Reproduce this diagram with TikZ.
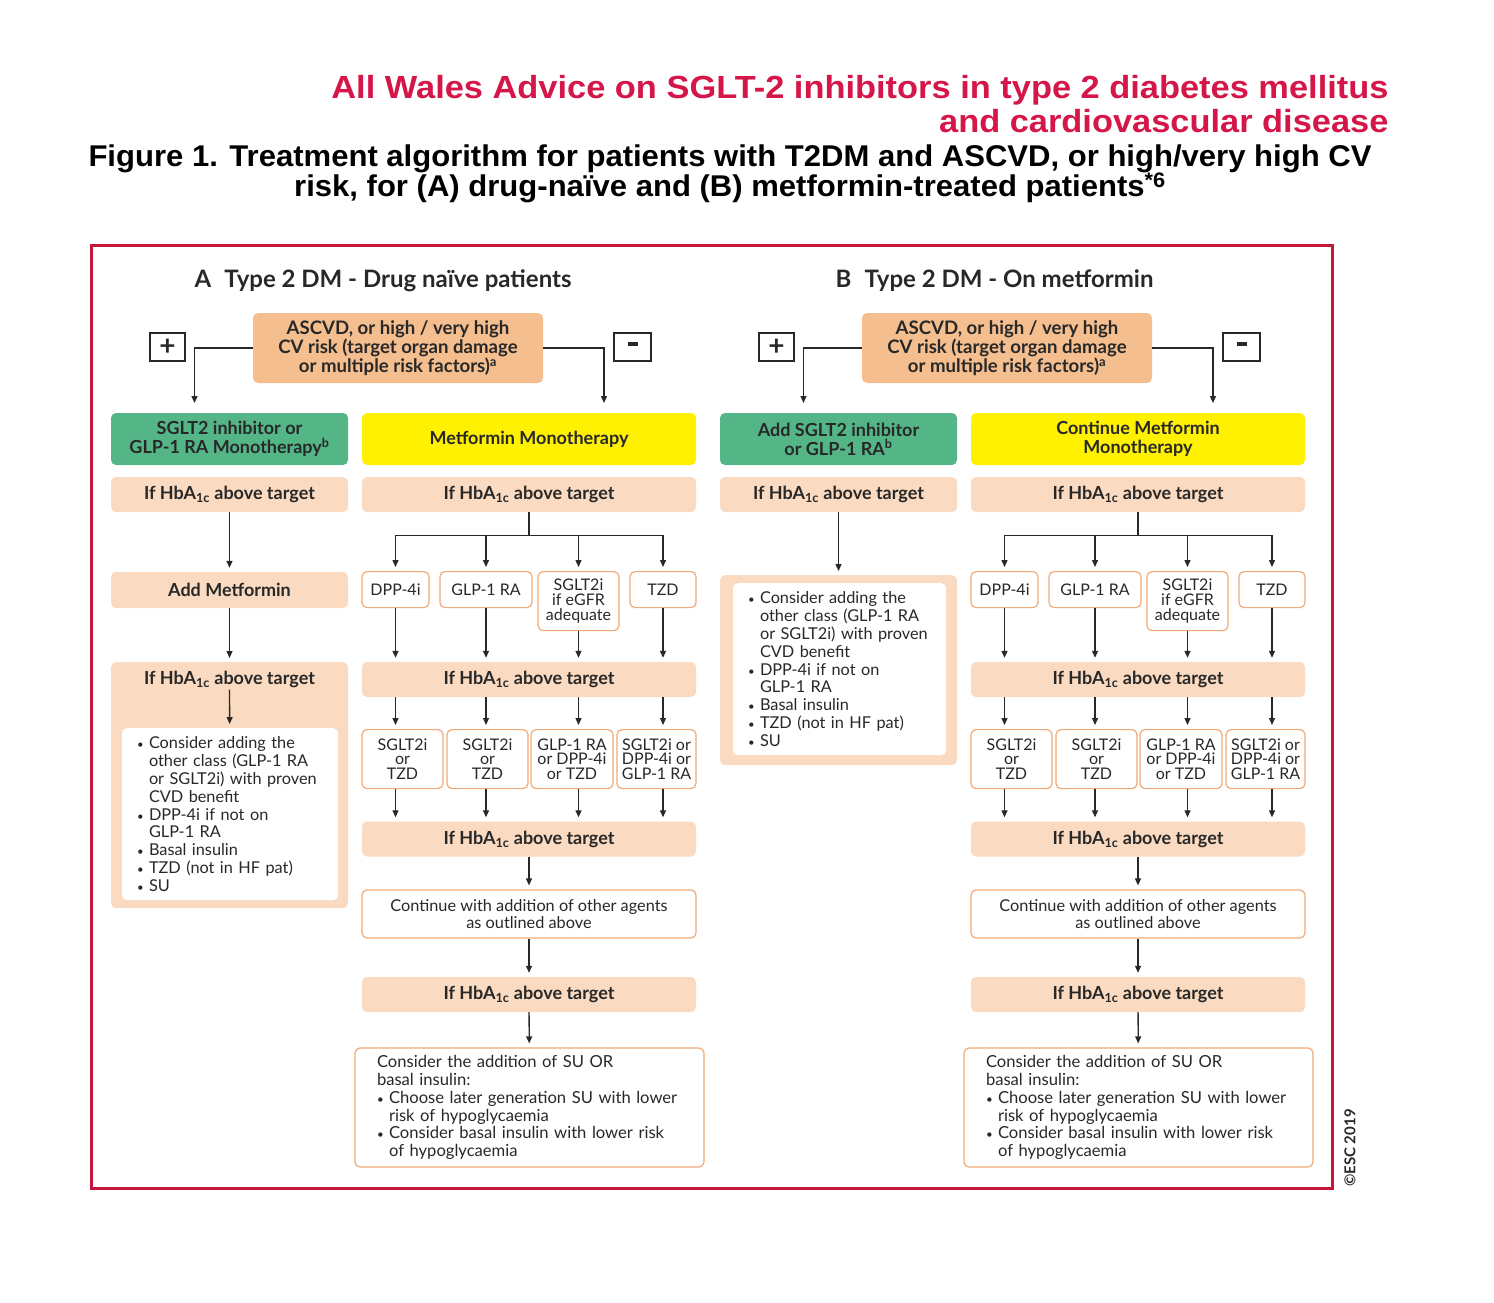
\documentclass[tikz,border=0pt]{standalone}
\usepackage{fontspec}
\setmainfont{Lato}
\newfontfamily\headfont{Liberation Sans}
\usepackage{tikz}
\usetikzlibrary{arrows.meta}

\definecolor{framered}{RGB}{196,24,58}
\definecolor{titlered}{RGB}{212,22,72}
\definecolor{ascvdtan}{RGB}{244,190,142}
\definecolor{hbpeach}{RGB}{250,218,192}
\definecolor{boxline}{RGB}{240,170,120}
\definecolor{sglgreen}{RGB}{84,182,135}
\definecolor{metyellow}{RGB}{255,241,0}
\definecolor{ink}{RGB}{40,40,40}

\newcommand\hba{If HbA\textsubscript{1c} above target}
\newcommand\bul{\makebox[12pt][l]{\scalebox{0.7}{\textbullet}}}
\newcommand\hang{\hspace*{12pt}}
\newcommand\boxfont{\fontsize{18}{19}\selectfont}
\newcommand\listfont{\fontsize{16.3}{17.8}\selectfont}

\tikzset{
  box/.style={rectangle, rounded corners=5pt, inner sep=2pt, align=center,
              text=ink, font=\boxfont},
  colwide/.style={minimum width=334},
  colnarrow/.style={minimum width=237},
  ascvd/.style={box, fill=ascvdtan, minimum width=290, minimum height=70,
                font=\fontsize{18.6}{19}\selectfont\bfseries},
  hbbox/.style={box, fill=hbpeach, minimum height=35, font=\boxfont\bfseries},
  greenbox/.style={box, fill=sglgreen, colnarrow, minimum height=52,
                   font=\boxfont\bfseries},
  yellowbox/.style={box, fill=metyellow, colwide, minimum height=52,
                    font=\boxfont\bfseries},
  drug/.style={box, draw=boxline, line width=1.2pt, fill=white, inner sep=1pt,
               font=\fontsize{16}{14.6}\selectfont},
  listbox/.style={box, fill=white, align=left, font=\listfont},
  signbox/.style={rectangle, draw=ink, line width=1.3pt, minimum width=35,
                  minimum height=28, inner sep=0pt, text=ink,
                  font=\fontsize{28}{28}\selectfont\bfseries},
  panelhead/.style={text=ink, font=\fontsize{24}{26}\selectfont\bfseries},
  conn/.style={draw=ink, line width=1.3pt},
  arr/.style={conn, -{Triangle[length=7pt,width=6pt]}, shorten >=4pt}
}

\begin{document}
\begin{tikzpicture}[x=1pt,y=-1pt]
  \useasboundingbox (0,0) rectangle (1494,1302);

  % headings
  \node[anchor=east, text=titlered, font=\headfont\bfseries\fontsize{32}{32}\selectfont]
    (wales1) at (1392,90) {\scalebox{1.075}[1]{All Wales Advice on SGLT-2 inhibitors in type 2 diabetes mellitus}};
  \node[anchor=east, text=titlered, font=\headfont\bfseries\fontsize{32}{32}\selectfont]
    (wales2) at (1392,121) {\scalebox{1.075}[1]{and cardiovascular disease}};
  \node[font=\headfont\bfseries\fontsize{30}{30}\selectfont]
    (fig1) at (730,159) {\scalebox{1.035}[1]{Figure 1. Treatment algorithm for patients with T2DM and ASCVD, or high/very high CV}};
  \node[font=\headfont\bfseries\fontsize{30}{30}\selectfont]
    (fig2) at (730,188) {\scalebox{1.035}[1]{risk, for (A) drug-naïve and (B) metformin-treated patients\textsuperscript{*6}}};

  \draw[framered, line width=3pt] (91,245) rectangle (1332,1188);
  \node[rotate=90, text=ink, font=\fontsize{15}{15}\selectfont\bfseries] (esc) at (1350,1148) {\textcopyright ESC 2019};

  % both panels: top part and right column
  \foreach \p/\dx in {A/0, B/609} {
    \begin{scope}[xshift=\dx]
      \node[ascvd] (asc\p) at (398,348)
        {ASCVD, or high / very high\\CV risk (target organ damage\\or multiple risk factors)\textsuperscript{a}};
      \node[signbox] (plus\p) at (167.5,347) {+};
      \node[signbox, minimum width=37] (minus\p) at (632.5,347) {\rule[0.22em]{10pt}{4pt}};
      \node[hbbox, colnarrow] (hb1\p) at (229.5,494.5) {\hba};
      \node[hbbox, colwide] (hb2\p) at (529,494.5) {\hba};

      \node[drug, minimum width=67, minimum height=36, anchor=north] (dpp\p) at (395.5,571) {DPP-4i};
      \node[drug, minimum width=92, minimum height=36, anchor=north] (glp\p) at (486,571) {GLP-1 RA};
      \node[drug, minimum width=81, minimum height=59, anchor=north] (sglt\p) at (578.5,571) {SGLT2i\\if eGFR\\adequate};
      \node[drug, minimum width=66, minimum height=36, anchor=north] (tzd\p) at (663,571) {TZD};
      \node[hbbox, colwide] (hb4\p) at (529,679.5) {\hba};

      \node[drug, minimum width=81, minimum height=59, anchor=north] (cmb1\p) at (402.5,729) {SGLT2i\\or\\TZD};
      \node[drug, minimum width=81, minimum height=59, anchor=north] (cmb2\p) at (487.5,729) {SGLT2i\\or\\TZD};
      \node[drug, minimum width=82, minimum height=59, anchor=north] (cmb3\p) at (572,729) {GLP-1 RA\\or DPP-4i\\or TZD};
      \node[drug, minimum width=79, minimum height=59, anchor=north] (cmb4\p) at (656.5,729) {SGLT2i or\\DPP-4i or\\GLP-1 RA};
      \node[hbbox, colwide] (hb5\p) at (529,839) {\hba};

      \node[drug, colwide, minimum height=48, font=\listfont] (cont\p) at (529,914)
        {Continue with addition of other agents\\as outlined above};
      \node[hbbox, colwide] (hb6\p) at (529,994.5) {\hba};
      \node[drug, text width=305, inner xsep=22, minimum height=119, align=left, font=\fontsize{16.6}{17.8}\selectfont]
        (final\p) at (529.5,1107.5)
        {Consider the addition of SU OR\\basal insulin:\\
         \bul Choose later generation SU with lower\\\hang risk of hypoglycaemia\\
         \bul Consider basal insulin with lower risk\\\hang of hypoglycaemia};

      \draw[arr] (asc\p.west) -| ([xshift=-35pt,yshift=6pt]hb1\p.north |- 0,413);
      \draw[arr] (asc\p.east) -| ([xshift=75pt,yshift=6pt]hb2\p.north |- 0,413);

      \draw[conn] (hb2\p.south) -- ++(0,23) coordinate (split\p);
      \draw[conn] (dpp\p.north |- split\p) -- (tzd\p.north |- split\p);
      \foreach \d/\i in {dpp/1, glp/2, sglt/3, tzd/4} {
        \draw[arr] (\d\p.north |- split\p) -- (\d\p.north);
        \draw[arr] (\d\p.south) -- (\d\p.south |- hb4\p.north);
        \draw[arr] (\d\p.south |- hb4\p.south) -- (\d\p.south |- cmb\i\p.north);
        \draw[arr] (\d\p.south |- cmb\i\p.south) -- (\d\p.south |- hb5\p.north);
      }
      \draw[arr] (hb5\p) -- (cont\p);
      \draw[arr] (cont\p) -- (hb6\p);
      \draw[arr] (hb6\p) -- (final\p);
    \end{scope}
  }

  % panel A, left column
  \node[panelhead] (headA) at (383,281) {A\hspace{0.55em}Type 2 DM - Drug naïve patients};
  \node[greenbox] (grnA) at (229.5,439) {SGLT2 inhibitor or\\GLP-1 RA Monotherapy\textsuperscript{b}};
  \node[yellowbox] (yelA) at (529,439) {Metformin Monotherapy};
  \node[hbbox, colnarrow, minimum height=36] (addmet) at (229.5,590) {Add Metformin};
  \node[box, fill=hbpeach, colnarrow, minimum height=246, anchor=north] (bigA) at (229.5,662) {};
  \node[box, font=\boxfont\bfseries] (hb3A) at (229.5,679) {\hba};
  \node[listbox, text width=186, inner xsep=15, minimum height=172, anchor=north] (listA) at (230,728)
    {\bul Consider adding the\\\hang other class (GLP-1 RA\\\hang or SGLT2i) with proven\\\hang CVD benefit\\
     \bul DPP-4i if not on\\\hang GLP-1 RA\\\bul Basal insulin\\\bul TZD (not in HF pat)\\\bul SU};
  \draw[arr] (hb1A) -- (addmet);
  \draw[arr] (addmet) -- (bigA);
  \draw[arr] (hb3A) -- (listA);

  % panel B, left column
  \node[panelhead] (headB) at (994.5,281) {B\hspace{0.55em}Type 2 DM - On metformin};
  \node[greenbox] (grnB) at (838.5,439) {Add SGLT2 inhibitor\\or GLP-1 RA\textsuperscript{b}};
  \node[yellowbox] (yelB) at (1138,439) {Continue Metformin\\Monotherapy};
  \node[box, fill=hbpeach, colnarrow, minimum height=190, anchor=north] (bigB) at (838.5,575) {};
  \node[listbox, text width=183, inner xsep=15, minimum height=172, anchor=north] (listB) at (839.5,583)
    {\bul Consider adding the\\\hang other class (GLP-1 RA\\\hang or SGLT2i) with proven\\\hang CVD benefit\\
     \bul DPP-4i if not on\\\hang GLP-1 RA\\\bul Basal insulin\\\bul TZD (not in HF pat)\\\bul SU};
  \draw[arr] (hb1B) -- (bigB);
\end{tikzpicture}
\end{document}
